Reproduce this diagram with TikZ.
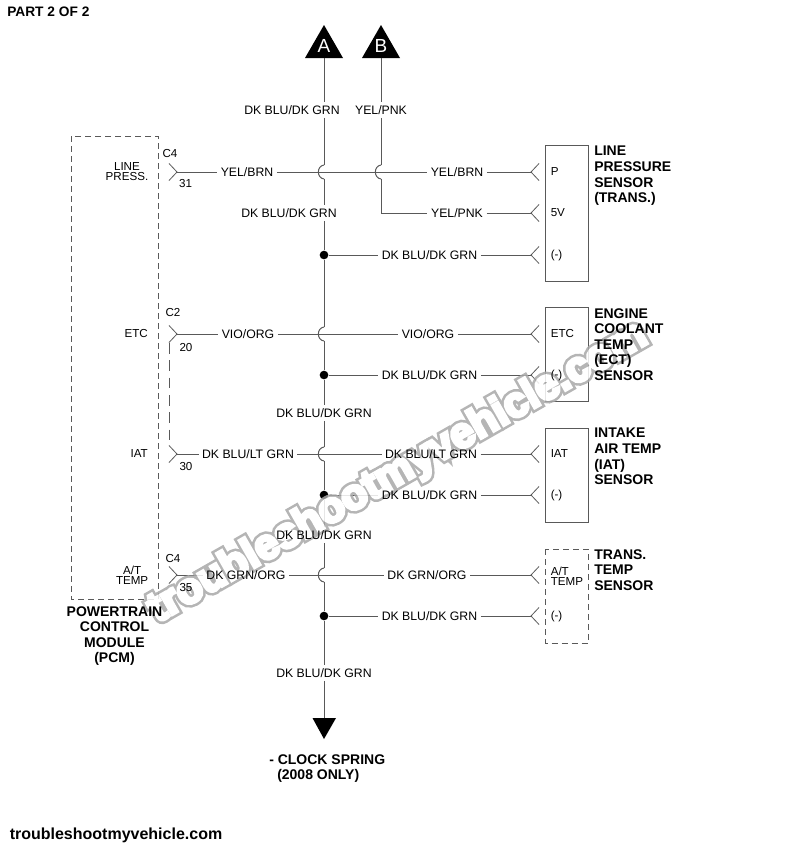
\documentclass[tikz,border=0pt]{standalone}
\usepackage{fontspec}
\setmainfont{Liberation Sans}
\newfontfamily\stampedge[FakeBold=20]{Liberation Sans Bold}
\newfontfamily\stampface[FakeBold=8]{Liberation Sans Bold}
\usetikzlibrary{calc}
\pgfdeclarelayer{wires}
\pgfdeclarelayer{stamp}
\pgfsetlayers{wires,stamp,main}
\definecolor{wirecol}{gray}{0.35}
\definecolor{stampcol}{gray}{0.66}
\tikzset{
  wire/.style={draw=wirecol,line width=0.75pt},
  boxline/.style={draw=wirecol,line width=0.7pt},
  dashbox/.style={draw=wirecol,line width=0.7pt,dash pattern=on 4.5pt off 3pt},
  wirelabel/.style={font=\fontsize{9.2}{10}\selectfont,inner xsep=2.5pt,inner ysep=2.5pt,text height=6.5pt,text depth=0pt},
  pinlabel/.style={font=\fontsize{8.7}{8.7}\selectfont,inner sep=0pt,align=center},
  partname/.style={font=\fontsize{10.5}{11.7}\selectfont\bfseries,inner sep=0pt,align=left,anchor=north west},
  splice/.style={circle,fill=black,inner sep=0pt,minimum size=6.5pt},
  stamptext/.style={rotate=29.7,inner sep=0pt}
}
\newcommand{\stampword}{troubleshootmyvehicle.com}
\newcommand{\dkblugrn}{DK BLU/DK GRN}
\begin{document}
\begin{tikzpicture}[x=0.75pt,y=-0.75pt]
\useasboundingbox (0,0) rectangle (800,850);

% header and footer
\node[anchor=west,inner sep=0pt,font=\fontsize{10.3}{12}\selectfont\bfseries] (parttitle) at (7,12) {PART 2 OF 2};
\node[anchor=west,inner sep=0pt,font=\fontsize{12}{14}\selectfont\bfseries] (sitename) at (9.5,835.5) {troubleshootmyvehicle.com};

% feeds at the top
\coordinate (Abase) at (324,58);
\coordinate (Bbase) at (381,58);
\begin{pgfonlayer}{wires}
\fill (305,58) -- (324,25) -- (343,58) -- cycle;
\fill (362,58) -- (381,25) -- (400,58) -- cycle;
\fill (312.5,718) -- (336,718) -- (324,739) -- cycle;
\end{pgfonlayer}
\node[text=white,inner sep=0pt,font=\fontsize{14.2}{15}\selectfont] (A) at (324,46) {A};
\node[text=white,inner sep=0pt,font=\fontsize{14.2}{15}\selectfont] (B) at (381,46) {B};
\coordinate (Cend) at (324,718);

% wire labels
\node[wirelabel] (busA) at (292,110) {\dkblugrn};
\node[wirelabel] (yelB) at (381,110) {YEL/PNK};
\node[wirelabel] (yb1) at (247,172) {YEL/BRN};
\node[wirelabel] (yb2) at (457,172) {YEL/BRN};
\node[wirelabel] (bus1) at (289,213) {\dkblugrn};
\node[wirelabel] (yp1) at (457,213) {YEL/PNK};
\node[wirelabel] (gnd1) at (429.5,255) {\dkblugrn};
\node[wirelabel] (vo1) at (248,334) {VIO/ORG};
\node[wirelabel] (vo2) at (428,334) {VIO/ORG};
\node[wirelabel] (gnd2) at (429.5,375) {\dkblugrn};
\node[wirelabel] (bus2) at (324,413) {\dkblugrn};
\node[wirelabel] (bl1) at (248,454) {DK BLU/LT GRN};
\node[wirelabel] (bl2) at (431,454) {DK BLU/LT GRN};
\node[wirelabel] (gnd3) at (429.5,495) {\dkblugrn};
\node[wirelabel] (bus3) at (324,535) {\dkblugrn};
\node[wirelabel] (go1) at (246,575) {DK GRN/ORG};
\node[wirelabel] (go2) at (427,575) {DK GRN/ORG};
\node[wirelabel] (gnd4) at (429.5,616) {\dkblugrn};
\node[wirelabel] (bus4) at (324,673) {\dkblugrn};

% PCM side
\node[pinlabel,anchor=east] (plline) at (148.5,171.5) {LINE\\[-0.8pt]PRESS.};
\node[pinlabel,anchor=east] (pletc) at (148,334) {ETC};
\node[pinlabel,anchor=east] (pliat) at (148,454) {IAT};
\node[pinlabel,anchor=east] (plat) at (148.5,575.5) {A/T\\[-0.8pt]TEMP};
\node[pinlabel] (c4a) at (170,154) {C4};
\node[pinlabel] (n31) at (185.5,184) {31};
\node[pinlabel] (c2) at (173,313) {C2};
\node[pinlabel] (n20) at (186,348) {20};
\node[pinlabel] (n30) at (186,466) {30};
\node[pinlabel] (c4b) at (173,558) {C4};
\node[pinlabel] (n35) at (186,587) {35};
\node[partname,align=center,anchor=north] (pcmname) at (114.5,606) {POWERTRAIN\\CONTROL\\MODULE\\(PCM)};

% sensor side
\node[pinlabel,anchor=west] (sp) at (550.5,172) {P};
\node[pinlabel,anchor=west] (s5v) at (550.5,213) {5V};
\node[pinlabel,anchor=west] (sg1) at (550.5,255) {(-)};
\node[pinlabel,anchor=west] (setc) at (550.5,334) {ETC};
\node[pinlabel,anchor=west] (sg2) at (550.5,375) {(-)};
\node[pinlabel,anchor=west] (siat) at (550.5,454) {IAT};
\node[pinlabel,anchor=west] (sg3) at (550.5,495) {(-)};
\node[pinlabel,anchor=west,align=left] (sat) at (550.5,576.5) {A/T\\[-0.8pt]TEMP};
\node[pinlabel,anchor=west] (sg4) at (550.5,616) {(-)};
\node[partname] (linename) at (594,146) {LINE\\PRESSURE\\SENSOR\\(TRANS.)};
\node[partname] (etcname) at (594,308) {ENGINE\\COOLANT\\TEMP\\(ECT)\\SENSOR};
\node[partname] (iatname) at (594,428) {INTAKE\\AIR TEMP\\(IAT)\\SENSOR};
\node[partname] (atname) at (594,549) {TRANS.\\TEMP\\SENSOR};
\node[partname] (clockname) at (269,754) {- CLOCK SPRING\\\hspace*{6pt}(2008 ONLY)};

% the grey stamp across the page
\begin{pgfonlayer}{stamp}
\begin{scope}[transparency group,opacity=0.85]
\node[stamptext,text=stampcol,font=\fontsize{32}{32}\stampedge] (stampback) at (398,473) {\stampword};
\node[stamptext,text=white,font=\fontsize{32}{32}\stampface] (stamp) at (398,473) {\stampword};
\end{scope}
\end{pgfonlayer}

\begin{pgfonlayer}{wires}
% modules
\draw[dashbox] (71,136) rectangle (158,599);
\draw[boxline] (545.5,145) rectangle (588,281);
\draw[boxline] (545.5,307) rectangle (588,401);
\draw[boxline] (545.5,428) rectangle (588,522);
\draw[dashbox] (545.5,549) rectangle (588,643);

% connector tips
\foreach \n/\y in {p1/172,p2/334,p3/454,p4/575} {
  \coordinate (\n) at (177,\y);
  \draw[wire,line width=0.6pt] (169,\y-8.5) -- (\n) -- (169,\y+8.5);
}
\foreach \n/\y in {s1/172,s2/213,s3/255,s4/334,s5/375,s6/454,s7/495,s8/575,s9/616} {
  \coordinate (\n) at (531,\y);
  \draw[wire,line width=0.6pt] (539,\y-8.5) -- (\n) -- (539,\y+8.5);
}
\draw[wire,dash pattern=on 8pt off 5pt] (169,343) -- (169,445);

% crossings
\foreach \n/\y in {1/172,2/334,3/454,4/575} {
  \coordinate (h\n t) at (324,\y-7);
  \coordinate (h\n b) at (324,\y+7);
  \draw[wire] (h\n t) .. controls (316.5,\y-6) and (316.5,\y+6) .. (h\n b);
}
\coordinate (hBt) at (381,165);
\coordinate (hBb) at (381,179);
\draw[wire] (hBt) .. controls (373.5,166) and (373.5,178) .. (hBb);

% splices on the bus
\node[splice] (d1) at (324,255) {};
\node[splice] (d2) at (324,375) {};
\node[splice] (d3) at (324,495) {};
\node[splice] (d4) at (324,616) {};

% main bus
\draw[wire] (Abase) -- (Abase |- busA.north);
\draw[wire] (Abase |- busA.south) -- (h1t);
\draw[wire] (h1b) -- (h1b |- bus1.north);
\draw[wire] (h1b |- bus1.south) -- (d1) -- (h2t);
\draw[wire] (h2b) -- (d2) -- (bus2) -- (h3t);
\draw[wire] (h3b) -- (d3) -- (bus3) -- (h4t);
\draw[wire] (h4b) -- (d4) -- (bus4) -- (Cend);

% feed B
\draw[wire] (Bbase) -- (yelB) -- (hBt);
\draw[wire] (hBb) -- (hBb |- yp1) -- (yp1) -- (s2);

% cross wires
\draw[wire] (p1) -- (yb1) -- (yb2) -- (s1);
\draw[wire] (p2) -- (vo1) -- (vo2) -- (s4);
\draw[wire] (p3) -- (bl1) -- (bl2) -- (s6);
\draw[wire] (p4) -- (go1) -- (go2) -- (s8);
\draw[wire] (d1) -- (gnd1) -- (s3);
\draw[wire] (d2) -- (gnd2) -- (s5);
\draw[wire] (d3) -- (gnd3) -- (s7);
\draw[wire] (d4) -- (gnd4) -- (s9);
\end{pgfonlayer}
\end{tikzpicture}
\end{document}
